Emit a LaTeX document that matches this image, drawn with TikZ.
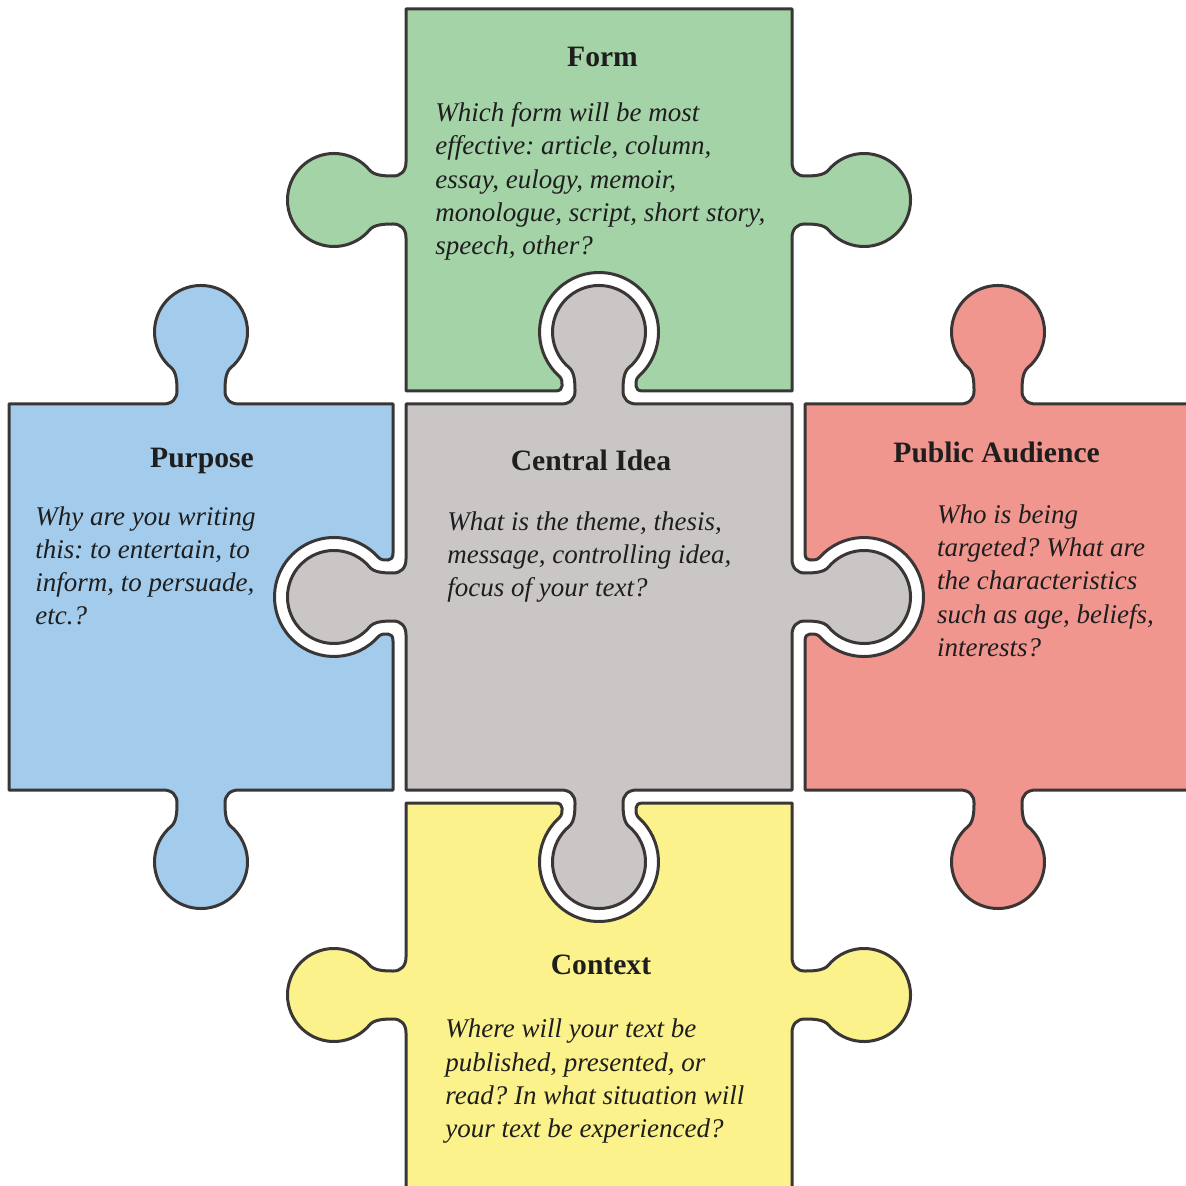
\documentclass[tikz,border=0pt]{standalone}
\usepackage{fontspec}
\setmainfont{Liberation Serif}
\frenchspacing
\definecolor{cgreen}{RGB}{165,211,168}
\definecolor{cblue}{RGB}{163,203,236}
\definecolor{cred}{RGB}{241,150,142}
\definecolor{cyellow}{RGB}{251,242,139}
\definecolor{cgray}{RGB}{203,198,198}
\definecolor{edgec}{RGB}{58,54,54}
\definecolor{txtc}{RGB}{30,30,30}
\tikzset{
  piece/.style={draw=edgec, line width=1.5pt, line join=round},
  ttl/.style={font=\fontsize{14.8}{18}\selectfont\bfseries, text=txtc, inner sep=0pt, anchor=base},
  bodytxt/.style={font=\fontsize{13.5}{16}\selectfont\itshape, text=txtc, inner sep=0pt, anchor=base west},
}
\newcommand\knobpath{-- (38,0) .. controls (29,0) and (24,5) .. (24,13) .. controls (24,22) and (24.5,31.9) .. (29.9,36.4) arc[start angle=-50,end angle=230,radius=46.5] .. controls (-24.5,31.9) and (-24,22) .. (-24,13) .. controls (-24,5) and (-29,0) .. (-38,0)}
\newcommand\sockpath{-- (-44,13) .. controls (-39,13) and (-37,15) .. (-37,18) .. controls (-37,22) and (-36.8,25.1) .. (-39.8,27.8) arc[start angle=228,end angle=-48,radius=59.5] .. controls (36.8,25.1) and (37,22) .. (37,18) .. controls (37,15) and (39,13) .. (44,13)}
\newcommand\kn[3]{{[shift={(#1,-#2)},rotate=#3] \knobpath}}
\newcommand\so[3]{{[shift={(#1,-#2)},rotate=#3] \sockpath}}
\begin{document}
\begin{tikzpicture}[x=0.5pt,y=0.5pt]
\useasboundingbox (0,0) rectangle (1186,-1186);
\clip (0,0) rectangle (1186,-1186);
% central piece
\filldraw[piece, fill=cgray] (792,-404) \kn{599}{404}{0} -- (406,-404) \kn{406}{597}{90} -- (406,-790) \kn{599}{790}{180} -- (792,-790) \kn{792}{597}{-90} -- cycle;
% form (green)
\filldraw[piece, fill=cgreen] (792,-9) -- (406,-9) \kn{406}{200}{90} -- (406,-391) \so{599}{404}{0} -- (792,-391) \kn{792}{200}{-90} -- cycle;
% purpose (blue)
\filldraw[piece, fill=cblue] (393,-404) \kn{201}{404}{0} -- (9,-404) -- (9,-790) \kn{201}{790}{180} -- (393,-790) \so{406}{597}{90} -- cycle;
% public audience (red)
\filldraw[piece, fill=cred] (1200,-404) \kn{998}{404}{0} -- (805,-404) \so{792}{597}{-90} -- (805,-790) \kn{998}{790}{180} -- (1200,-790) -- cycle;
% context (yellow)
\filldraw[piece, fill=cyellow] (792,-803) \so{599}{790}{180} -- (406,-803) \kn{406}{995}{90} -- (406,-1200) -- (792,-1200) \kn{792}{995}{-90} -- cycle;
% titles
\node[ttl] (formT) at (602.5,-66.7) {Form};
\node[ttl] (purposeT) at (202,-467.3) {Purpose};
\node[ttl] (centralT) at (591,-470.7) {Central Idea};
\node[ttl] (audienceT) at (996.6,-462.7) {Public Audience};
\node[ttl] (contextT) at (601,-974.3) {Context};
% bodies
\foreach \txt [count=\i from 0] in {{Which form will be most},{effective: article, column,},{essay, eulogy, memoir,},{monologue, script, short story,},{speech, other?}}
  \node[bodytxt] (form\i) at (435,{-121.7-33.3*\i}) {\txt};
\foreach \txt [count=\i from 0] in {{Why are you writing},{this: to entertain, to},{inform, to persuade,},{etc.?}}
  \node[bodytxt] (purpose\i) at (35,{-525-33.3*\i}) {\txt};
\foreach \txt [count=\i from 0] in {{What is the theme, thesis,},{message, controlling idea,},{focus of your text?}}
  \node[bodytxt] (central\i) at (447,{-530-33.3*\i}) {\txt};
\foreach \txt [count=\i from 0] in {{Who is being},{targeted? What are},{the characteristics},{such as age, beliefs,},{interests?}}
  \node[bodytxt] (audience\i) at (936.7,{-523.3-33.3*\i}) {\txt};
\foreach \txt [count=\i from 0] in {{Where will your text be},{published, presented, or},{read? In what situation will},{your text be experienced?}}
  \node[bodytxt] (context\i) at (445,{-1037.7-33.3*\i}) {\txt};
\end{tikzpicture}
\end{document}
